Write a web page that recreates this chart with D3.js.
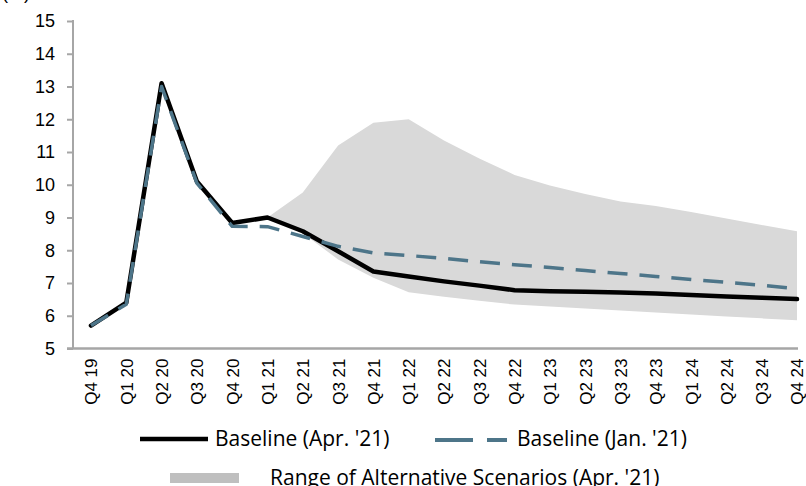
<!DOCTYPE html>
<html><head><meta charset="utf-8">
<script src="https://cdn.jsdelivr.net/npm/d3@7"></script>
<style>body{margin:0;background:#fff;}svg{display:block;}</style>
</head><body><svg id="c" width="806" height="486"></svg>
<script>
const categories = ["Q4 19","Q1 20","Q2 20","Q3 20","Q4 20","Q1 21","Q2 21","Q3 21","Q4 21","Q1 22","Q2 22","Q3 22","Q4 22","Q1 23","Q2 23","Q3 23","Q4 23","Q1 24","Q2 24","Q3 24","Q4 24"];
const baselineApr21 = [5.7, 6.4, 13.1, 10.1, 8.83, 9.0, 8.58, 7.97, 7.35, 7.2, 7.05, 6.92, 6.78, 6.75, 6.73, 6.71, 6.68, 6.63, 6.59, 6.55, 6.51];
const baselineJan21 = [5.7, 6.35, 13.0, 10.05, 8.73, 8.72, 8.42, 8.12, 7.92, 7.84, 7.75, 7.65, 7.56, 7.47, 7.38, 7.29, 7.2, 7.11, 7.02, 6.93, 6.83];
const rangeUpper = [null, null, null, null, null, 9.0, 9.76, 11.2, 11.89, 12.0, 11.35, 10.8, 10.3, 9.98, 9.72, 9.49, 9.35, 9.17, 8.97, 8.77, 8.58];
const rangeLower = [null, null, null, null, null, 9.0, 8.52, 7.72, 7.16, 6.72, 6.58, 6.46, 6.34, 6.28, 6.22, 6.16, 6.1, 6.04, 5.98, 5.92, 5.86];
const yTicks = [5,6,7,8,9,10,11,12,13,14,15];
const legendLabels = ["Baseline (Apr. '21)", "Baseline (Jan. '21)", "Range of Alternative Scenarios (Apr. '21)"];
const yUnit = "(%)";

const svg = d3.select("#c");
const x = d3.scalePoint().domain(categories).range([91, 797]);
const y = d3.scaleLinear().domain([5, 15]).range([348.5, 21]);
const axisColor = "#a6a6a6";
const tickFont = "'Liberation Sans', Arial, sans-serif";
const legFont = "'Open Sans', Lato, sans-serif";

// area
const idx = categories.map((c,i)=>i);
const area = d3.area()
  .defined(i => rangeUpper[i] != null)
  .x(i => x(categories[i]))
  .y0(i => y(rangeLower[i]))
  .y1(i => y(rangeUpper[i]));
svg.append("path").attr("d", area(idx)).attr("fill", "#d9d9d9");

// axes
const yAxis = d3.axisLeft(y).tickValues(yTicks).tickSize(6).tickPadding(12);
const gy = svg.append("g").attr("transform", "translate(73,0)").call(yAxis);
gy.select(".domain").remove();
gy.selectAll(".tick line").attr("stroke", axisColor).attr("stroke-width", 2);
gy.selectAll("text").attr("font-family", tickFont).attr("font-size", 18).attr("fill", "#000");
svg.append("line").attr("x1", 73).attr("x2", 73).attr("y1", y(15)-1).attr("y2", y(5)).attr("stroke", axisColor).attr("stroke-width", 2);

const xAxis = d3.axisBottom(x).tickSize(0).tickPadding(0);
const gx = svg.append("g").attr("transform", `translate(0,${y(5)})`).call(xAxis);
gx.select(".domain").remove();
gx.selectAll("text")
  .attr("font-family", tickFont).attr("font-size", 17).attr("fill", "#000")
  .attr("transform", "rotate(-90)")
  .attr("text-anchor", "end")
  .attr("x", -10).attr("y", 0).attr("dy", "0.35em");
svg.append("line").attr("x1", 67).attr("x2", 798).attr("y1", y(5)).attr("y2", y(5)).attr("stroke", axisColor).attr("stroke-width", 2.5);

// lines
const line = arr => d3.line().x((d,i)=>x(categories[i])).y(d=>y(d))(arr);
svg.append("path").attr("d", line(baselineApr21)).attr("fill","none").attr("stroke","#000").attr("stroke-width",4.5).attr("stroke-linejoin","round").attr("stroke-linecap","round");
svg.append("path").attr("d", line(baselineJan21)).attr("fill","none").attr("stroke","#4d7589").attr("stroke-width",3.5).attr("stroke-dasharray","20,12").attr("stroke-linejoin","round");

// unit label
svg.append("text").attr("x", 2).attr("y", -1).attr("font-family", tickFont).attr("font-size", 18).text(yUnit);

// legend
const lg = svg.append("g");
lg.append("line").attr("x1",140).attr("x2",208).attr("y1",439).attr("y2",439).attr("stroke","#000").attr("stroke-width",4.5);
lg.append("text").attr("x",215).attr("y",439).attr("dy","0.35em").attr("font-family",legFont).attr("font-size",21).text(legendLabels[0]);
lg.append("line").attr("x1",435).attr("x2",507).attr("y1",440).attr("y2",440).attr("stroke","#4d7589").attr("stroke-width",4).attr("stroke-dasharray","38,14,20");
lg.append("text").attr("x",517).attr("y",439).attr("dy","0.35em").attr("font-family",legFont).attr("font-size",21).text(legendLabels[1]);
lg.append("rect").attr("x",170).attr("y",473).attr("width",69).attr("height",10).attr("fill","#bfbfbf");
lg.append("text").attr("x",270).attr("y",478).attr("dy","0.35em").attr("font-family",legFont).attr("font-size",21).text(legendLabels[2]);
</script></body></html>
